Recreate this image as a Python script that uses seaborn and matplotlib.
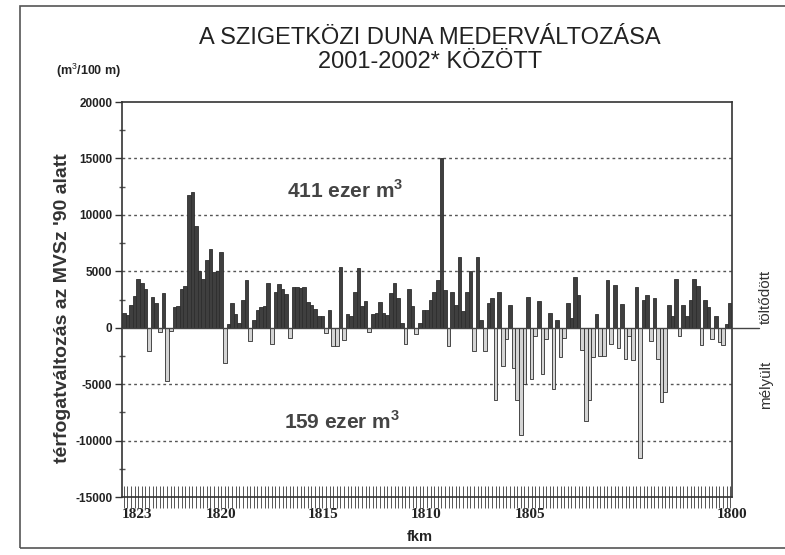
import matplotlib
matplotlib.use("Agg")
import matplotlib.pyplot as plt
from matplotlib import font_manager
import seaborn as sns
import numpy as np
import pandas as pd
from matplotlib.patches import Rectangle

# ---- data (m3 / 100 m), upstream (1823) -> downstream (1800)
values = [
    1300, 1100, 2000, 2800, 4300, 4000, 3400, -2100, 2700, 2200,
    -400, 3100, -4700, -300, 1800, 1900, 3400, 3700, 11800, 12000,
    9000, 5000, 4300, 6000, 7000, 4900, 5000, 6700, -3100, 300,
    2200, 1200, 400, 2500, 4200, -1200, 700, 1600, 1800, 1900,
    4000, -1400, 3200, 3900, 3400, 3000, -900, 3600, 3600, 3500,
    3600, 2300, 2000, 1700, 1000, 1000, -500, 1600, -1600, -1600,
    5400, -1100, 1200, 1000, 3200, 5300, 1900, 2400, -400, 1200,
    1300, 2300, 1300, 1100, 3100, 4000, 2600, 400, -1400, 3400,
    1900, -600, 400, 1600, 1600, 2500, 3200, 4200, 15000, 3300,
    -1600, 3200, 2000, 6300, 1500, 3200, 5000, -2100, 6300, 700,
    -2100, 2200, 2600, -6400, 3200, -3400, -1000, 2000, -3600, -6400,
    -9500, -5000, 2700, -4500, -700, 2400, -4100, -1000, 1300, -5400,
    700, -2600, -900, 2200, 900, 4500, 2900, -2000, -8300, -6400,
    -2600, 1200, -2500, -2500, 4200, -1400, 3800, -1800, 2100, -2800,
    -700, -2900, 3600, -11500, 2500, 2900, -1200, 2600, -2800, -6600,
    -5700, 2000, 1000, 4300, -700, 2000, 1000, 2500, 4300, 3700,
    -1500, 2500, 1800, -1000, 1000, -1300, -1500, 300, 2200,
]
x_labels = ["1823", "1820", "1815", "1810", "1805", "1800"]
x_label_frac = [0.025, 0.162, 0.329, 0.498, 0.669, 1.0]
y_ticks = [-15000, -10000, -5000, 0, 5000, 10000, 15000, 20000]
title_lines = ["A SZIGETKÖZI DUNA MEDERVÁLTOZÁSA", "2001-2002* KÖZÖTT"]
ann_pos_text = r"411 ezer m$^\mathbf{3}$"
ann_neg_text = r"159 ezer m$^\mathbf{3}$"

n = len(values)
df = pd.DataFrame({"pos": np.arange(n), "val": values})
df["sign"] = np.where(df["val"] >= 0, "pos", "neg")

sns.set_theme(style="white")
plt.rcParams["font.family"] = ["Liberation Sans", "DejaVu Sans"]
plt.rcParams["mathtext.fontset"] = "custom"
plt.rcParams["mathtext.rm"] = "Liberation Sans"
plt.rcParams["mathtext.bf"] = "Liberation Sans:bold"

names = {f.name for f in font_manager.fontManager.ttflist}
narrow = "Liberation Sans Narrow" if "Liberation Sans Narrow" in names else "Liberation Sans"

fig = plt.figure(figsize=(7.85, 5.55), dpi=100)
ax = fig.add_axes([0.1554, 0.1045, 0.7771, 0.7117])

sns.barplot(data=df, x="pos", y="val", hue="sign", dodge=False, width=1.0,
            palette={"pos": "#3f3f3f", "neg": "#d4d4d4"}, legend=False,
            ax=ax, errorbar=None)
for p in ax.patches:
    p.set_edgecolor("#2e2e2e")
    p.set_linewidth(0.6)

ax.set_xlim(-0.5, n - 0.5)
ax.set_ylim(-15000, 20000)

for yv in [15000, 10000, 5000, -5000, -10000]:
    ax.axhline(yv, color="#555555", lw=1.0, ls=(0, (2, 2.2)), zorder=0)
ax.axhline(0, xmin=0, xmax=1.045, color="#444444", lw=1.0, clip_on=False, zorder=3)

for s in ax.spines.values():
    s.set_color("#333333")
    s.set_linewidth(1.2)

ax.set_yticks(y_ticks)
ax.set_yticklabels([str(v) for v in y_ticks], fontsize=8.5, fontweight="bold", color="#222222")
ax.set_yticks(np.arange(-12500, 20000, 5000), minor=True)
ax.tick_params(axis="y", which="major", direction="out", length=5, width=1.0, color="#333333", left=True, pad=2)
ax.tick_params(axis="y", which="minor", direction="inout", length=5, width=1.0, color="#555555", left=True)

pos_ticks = [-0.5 + f * n for f in x_label_frac]
ax.set_xticks(pos_ticks)
ax.set_xticklabels(x_labels, fontsize=11, fontweight="bold", family="Liberation Serif", color="#222222")
ax.set_xticks(np.arange(n), minor=True)
ax.tick_params(axis="x", which="major", length=0, pad=8)
ax.tick_params(axis="x", which="minor", direction="inout", length=16, width=0.7, color="#555555", bottom=True)
ax.set_xlabel("")
ax.set_ylabel("")

ax.text(0.27, 0.777, ann_pos_text, transform=ax.transAxes, fontsize=15, fontweight="bold",
        color="#444444", ha="left", va="center")
ax.text(0.265, 0.19, ann_neg_text, transform=ax.transAxes, fontsize=15, fontweight="bold",
        color="#444444", ha="left", va="center")

fig.text(0.548, 0.932, title_lines[0], ha="center", va="center", fontsize=17, family=narrow,
         color="#222222")
fig.text(0.548, 0.888, title_lines[1], ha="center", va="center", fontsize=17, family=narrow,
         color="#222222")
fig.text(0.113, 0.873, "(m$^3$/100 m)", ha="center", va="center", fontsize=9, family=narrow,
         fontweight="bold", color="#222222")
fig.text(0.079, 0.445, "térfogatváltozás az MVSz '90 alatt", rotation=90, ha="center", va="center",
         fontsize=14, fontweight="bold", color="#333333")
fig.text(0.976, 0.465, "töltődött", rotation=90, ha="center", va="center", fontsize=11, color="#333333")
fig.text(0.976, 0.306, "mélyült", rotation=90, ha="center", va="center", fontsize=11, color="#333333")
fig.text(0.535, 0.032, "fkm", ha="center", va="center", fontsize=10.5, fontweight="bold", color="#222222")

fig.patches.append(Rectangle((0.025, 0.012), 0.99, 0.978, transform=fig.transFigure,
                             fill=False, edgecolor="#555555", lw=1.2))

fig.savefig("out.png", dpi=100)
